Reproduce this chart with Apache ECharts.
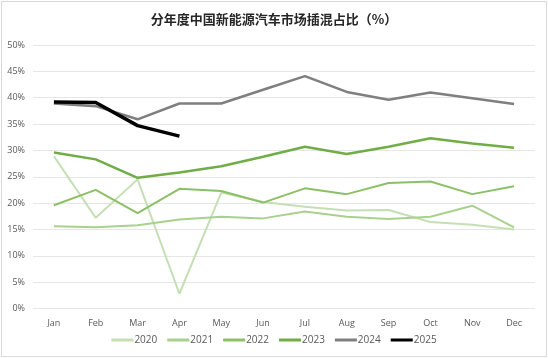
<!DOCTYPE html>
<html><head><meta charset="utf-8">
<script src="https://cdn.jsdelivr.net/npm/echarts@6/dist/echarts.min.js"></script>
<style>html,body{margin:0;padding:0;background:#fff}#c{width:548px;height:358px}
#frame{position:absolute;left:1px;top:1px;width:544px;height:354px;border:1px solid #d9d9d9;pointer-events:none}</style>
</head><body><div id="c"></div><div id="frame"></div>
<script>
const months = ['Jan','Feb','Mar','Apr','May','Jun','Jul','Aug','Sep','Oct','Nov','Dec'];
const yTicks = [0,5,10,15,20,25,30,35,40,45,50];
const s2020 = [28.9,17.2,24.5,2.8,22.0,20.2,19.3,18.6,18.7,16.4,15.9,15.0];
const s2021 = [15.6,15.4,15.8,16.9,17.4,17.1,18.4,17.4,17.0,17.4,19.5,15.4];
const s2022 = [19.6,22.5,18.1,22.7,22.3,20.1,22.8,21.7,23.8,24.1,21.7,23.2];
const s2023 = [29.6,28.3,24.8,25.8,27.0,28.8,30.7,29.3,30.7,32.3,31.3,30.5];
const s2024 = [38.9,38.4,35.9,38.9,38.9,41.5,44.1,41.1,39.6,41.0,39.9,38.8];
const s2025 = [39.2,39.1,34.7,32.7];
const names = ['2020','2021','2022','2023','2024','2025'];
const colors = ['#c5dfb4','#a9d18e','#8cc068','#70ad47','#7f7f7f','#000000'];
const widths = [2,2,2,2.5,2.5,3.5];
const datas = [s2020,s2021,s2022,s2023,s2024,s2025];
const chart = echarts.init(document.getElementById('c'));
chart.setOption({
  animation:false,
  title:{text:'分年度中国新能源汽车市场插混占比（%）',left:'center',top:8,
    textStyle:{fontFamily:'Noto Sans CJK SC',fontSize:13,fontWeight:'bold',color:'#262626'}},
  grid:{left:33,right:13,top:45,bottom:49.5,containLabel:false},
  legend:{bottom:8,left:'center',itemWidth:22,itemHeight:3,itemGap:10,icon:'rect',
    textStyle:{fontFamily:'Open Sans',fontSize:10,color:'#595959',padding:[0,0,0,-4]},
    data:names},
  xAxis:{type:'category',data:months,boundaryGap:true,
    axisLine:{show:false},axisTick:{show:false},
    axisLabel:{fontFamily:'Open Sans',fontSize:9,color:'#595959',margin:10}},
  yAxis:{type:'value',min:0,max:50,interval:5,
    axisLabel:{formatter:v=>v+'%',fontFamily:'Open Sans',fontSize:9,color:'#595959',margin:8},
    splitLine:{lineStyle:{color:'#e6e6e6',width:1}},axisLine:{show:false},axisTick:{show:false}},
  series:datas.map((d,i)=>({name:names[i],type:'line',data:d,symbol:'none',
    lineStyle:{color:colors[i],width:widths[i]},itemStyle:{color:colors[i]},z:i+2}))
});
</script></body></html>
